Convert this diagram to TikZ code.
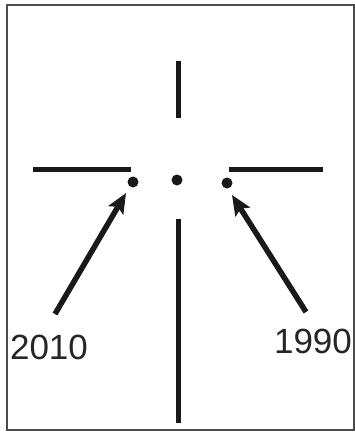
\documentclass[tikz,border=0pt]{standalone}
\usepackage{fontspec}
\setmainfont{Liberation Sans}
\usetikzlibrary{arrows.meta}
\begin{document}
\begin{tikzpicture}[x=1pt,y=-1pt,
  bar/.style={line width=5pt,color=black!90},
  dotnode/.style={circle,fill=black!90,inner sep=0pt,minimum size=11pt},
  pointer/.style={line width=5.5pt,color=black!90,-{Stealth[length=20pt,width=17pt,inset=4pt]}},
  yearlabel/.style={font=\fontsize{35}{40}\selectfont,text=black!85,inner sep=0pt}]
\useasboundingbox (0,0) rectangle (355,432);
\draw[line width=1.3pt,color=black!70] (7,5) rectangle (354,430);
\coordinate (tv1) at (178,61); \coordinate (tv2) at (178,118);
\coordinate (bv1) at (178,219); \coordinate (bv2) at (178,423);
\coordinate (lh1) at (33,169); \coordinate (lh2) at (131,169);
\coordinate (rh1) at (229,169); \coordinate (rh2) at (323,169);
\draw[bar] (tv1) -- (tv2);
\draw[bar] (bv1) -- (bv2);
\draw[bar] (lh1) -- (lh2);
\draw[bar] (rh1) -- (rh2);
\node[dotnode] (dl) at (133,182) {};
\node[dotnode] (dc) at (177,180) {};
\node[dotnode] (dr) at (227,183) {};
\coordinate (la) at (55,314); \coordinate (lt) at (126,193);
\coordinate (ra) at (306,312); \coordinate (rt) at (232,195);
\draw[pointer] (la) -- (lt);
\draw[pointer] (ra) -- (rt);
\node[yearlabel] (y2010) at (49,347) {2010};
\node[yearlabel] (y1990) at (313,341) {1990};
\end{tikzpicture}
\end{document}
